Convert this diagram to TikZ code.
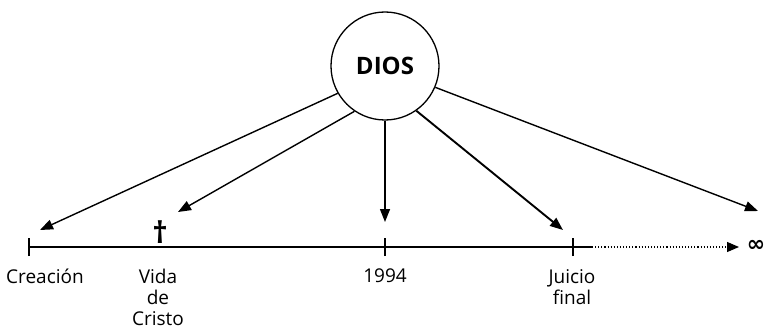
\documentclass[tikz,border=0pt]{standalone}
\usepackage{fontspec}
\setmainfont{Open Sans}
\newfontfamily\symfont{DejaVu Sans}
\usetikzlibrary{arrows.meta}
\begin{document}
\begin{tikzpicture}[x=1pt,y=1pt,
  ray/.style={line width=1.4pt,-{Triangle[length=13pt,width=10pt]}},
  tickmark/.style={line width=1.3pt},
  lbl/.style={font=\fontsize{19}{21}\selectfont,align=center,anchor=north,inner sep=0pt}]
\useasboundingbox (0,0) rectangle (767,330);
% God circle
\node[draw,circle,line width=1.3pt,minimum size=108pt,inner sep=0pt,fill=white,font=\fontsize{24}{26}\selectfont\bfseries] (dios) at (385,264) {DIOS};
% timeline points
\coordinate (c0) at (29,83);
\coordinate (c1) at (385,83);
\coordinate (c2) at (573,83);
\coordinate (c3) at (592,83);
\coordinate (cend) at (739,83);
\draw[line width=1.3pt] (c0) -- (c3);
\draw[line width=1.1pt,dotted,-{Triangle[length=12pt,width=10pt]}] (c3) -- (cend);
\foreach \c in {c0,c1,c2}{\draw[tickmark] ([yshift=-9pt]\c) -- ([yshift=9pt]\c);}
% cross
\node[font=\fontsize{30}{32}\selectfont\bfseries,inner sep=0pt] (cross) at (160,98) {†};
% infinity
\node[font=\symfont\fontsize{22}{26}\selectfont\bfseries,inner sep=0pt] (inf) at (756,84) {∞};
% arrow target coordinates
\coordinate (t1) at (40,100);
\coordinate (t2) at (178,118);
\coordinate (t3) at (385,108);
\coordinate (t4) at (563,100);
\coordinate (t5) at (758,119);
\draw[ray] (dios.210) -- (t1);
\draw[ray] (dios.236) -- (t2);
\draw[ray] (dios.south) -- (t3);
\draw[ray,line width=1.9pt] (dios.305) -- (t4);
\draw[ray] (dios.337) -- (t5);
% labels
\node[lbl] (l0) at (45,61) {Creación};
\node[lbl] (l1) at (158,61) {Vida\\de\\Cristo};
\node[lbl] (l2) at (385,61) {1994};
\node[lbl] (l3) at (572,61) {Juicio\\final};
\end{tikzpicture}
\end{document}
